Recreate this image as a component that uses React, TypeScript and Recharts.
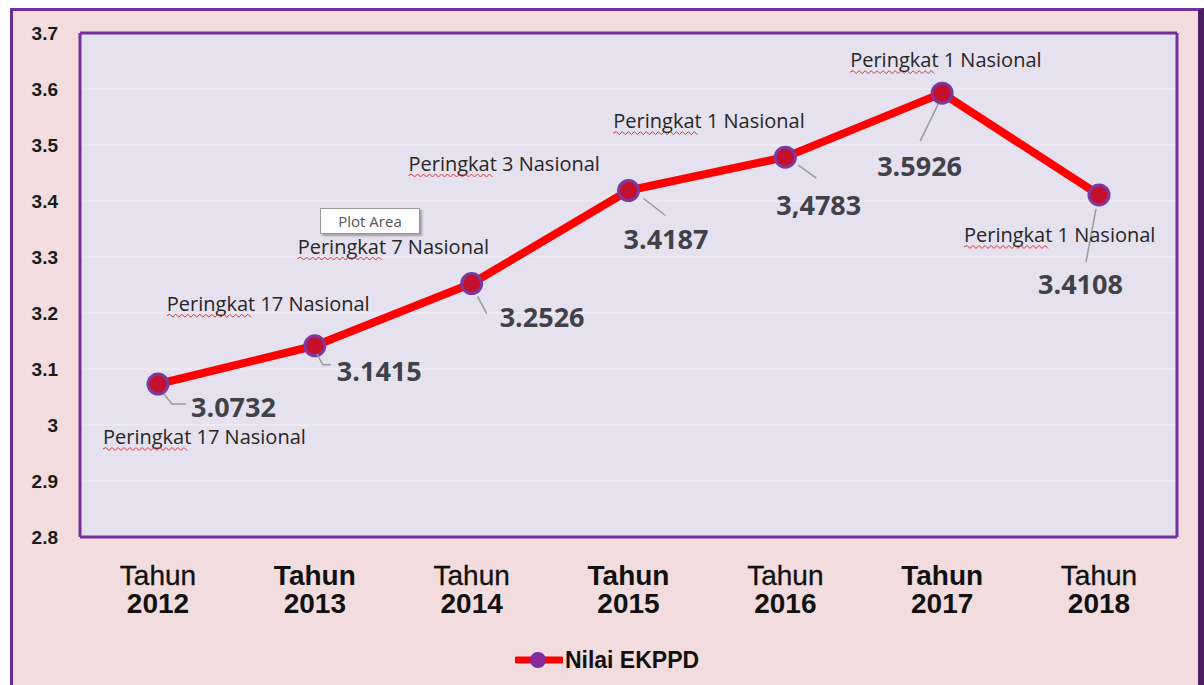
import React from 'react';
import { LineChart, Line, XAxis, YAxis, CartesianGrid, Legend, LabelList } from 'recharts';

const years = ['2012', '2013', '2014', '2015', '2016', '2017', '2018'];
const tahunBold = [false, true, false, true, false, true, false];
const nilai = [3.0732, 3.1415, 3.2526, 3.4187, 3.4783, 3.5926, 3.4108];
const nilaiText = ['3.0732', '3.1415', '3.2526', '3.4187', '3,4783', '3.5926', '3.4108'];
const peringkat = [
  'Peringkat 17 Nasional',
  'Peringkat 17 Nasional',
  'Peringkat 7 Nasional',
  'Peringkat 3 Nasional',
  'Peringkat 1 Nasional',
  'Peringkat 1 Nasional',
  'Peringkat 1 Nasional',
];
const yTicks = [2.8, 2.9, 3, 3.1, 3.2, 3.3, 3.4, 3.5, 3.6, 3.7];

const data = years.map((y, i) => ({ year: y, value: nilai[i] }));

// label placement relative to each point (layout only)
const rankPos = [[-55, 60], [-148, -35], [-174, -30], [-220, -20], [-172, -29], [-92, -26], [-135, 47]];
const valuePos = [[33, 33], [22, 35], [28, 43], [-5, 58], [-9, 58], [-65, 83], [-61, 99]];
const leaderPos = [
  [[6, 10], [14, 20], [28, 20]],
  [[2, 8], [8, 19], [16, 19]],
  [[6, 13], [15, 30]],
  [[15, 8], [37, 25]],
  [[13, 8], [31, 21]],
  [[-4, 11], [-22, 48]],
  [[-3, 14], [-13, 67]],
];

const zigzag = (x0: number, y0: number, w: number) => {
  let d = `M${x0},${y0}`;
  let up = true;
  for (let x = x0 + 3; x <= x0 + w; x += 3) {
    d += ` L${x},${y0 + (up ? -1.5 : 1.5)}`;
    up = !up;
  }
  return d;
};

const PointLabels = (props: any) => {
  const { x, y, value } = props;
  let index = props.index;
  if (index === undefined || index === null) index = nilai.indexOf(value);
  if (index < 0 || x == null || y == null) return null;
  const rp = rankPos[index];
  const vp = valuePos[index];
  const lp = leaderPos[index];
  const pts = lp.map((p) => `${x + p[0]},${y + p[1]}`).join(' ');
  const rx = x + rp[0];
  const ry = y + rp[1];
  return (
    <g>
      <polyline points={pts} fill="none" stroke="#9a9aa2" strokeWidth={1.5} />
      <text x={x + vp[0]} y={y + vp[1]} fill="#414149" fontSize={27} fontWeight={700} fontFamily="'Open Sans', 'DejaVu Sans', sans-serif">
        {nilaiText[index]}
      </text>
      <text x={rx} y={ry} fill="#262626" fontSize={20} fontFamily="'Open Sans', 'DejaVu Sans', sans-serif">
        {peringkat[index]}
      </text>
      <path d={zigzag(rx, ry + 5, 86)} fill="none" stroke="#e03030" strokeWidth={1} />
    </g>
  );
};

const XTick = (props: any) => {
  const { x, y, payload, index } = props;
  const i = index ?? years.indexOf(payload.value);
  return (
    <g>
      <text x={x} y={y + 48} textAnchor="middle" fill="#111" fontSize={28} fontWeight={tahunBold[i] ? 700 : 400} stroke={tahunBold[i] ? 'none' : '#111'} strokeWidth={0.3} fontFamily="'Liberation Sans', Arial, sans-serif">
        Tahun
      </text>
      <text x={x} y={y + 76} textAnchor="middle" fill="#111" fontSize={28} fontWeight={700} fontFamily="'Liberation Sans', Arial, sans-serif">
        {payload.value}
      </text>
    </g>
  );
};

const LegendContent = () => (
  <div style={{ display: 'flex', justifyContent: 'center', alignItems: 'center', height: 30, paddingLeft: 36 }}>
    <svg width={48} height={24} style={{ marginRight: 2 }}>
      <line x1={2} y1={12} x2={46} y2={12} stroke="#ff0000" strokeWidth={7} strokeLinecap="round" />
      <circle cx={23} cy={12} r={7} fill="#8a2a9a" stroke="#7030a0" strokeWidth={2} />
    </svg>
    <span style={{ fontFamily: "'Liberation Sans', Arial, sans-serif", fontWeight: 700, fontSize: 23, color: '#111' }}>Nilai EKPPD</span>
  </div>
);

const frameLine = { stroke: '#7030a0', strokeWidth: 3 };

export default function App() {
  return (
    <div style={{ position: 'absolute', left: 0, top: 0, width: 1204, height: 685, background: '#ffffff', overflow: 'hidden' }}>
      <div
        style={{
          position: 'absolute',
          left: 10,
          top: 8,
          width: 1194,
          height: 690,
          background: '#f2dcdd',
          borderTop: '3px solid #7030a0',
          borderLeft: '3px solid #6a2d96',
          borderRight: '6px solid #4a2060',
          boxSizing: 'border-box',
        }}
      />
      <div style={{ position: 'absolute', left: 0, top: 0 }}>
        <LineChart width={1204} height={685} data={data} margin={{ top: 32, right: 26, bottom: 10, left: 0 }}>
          <CartesianGrid vertical={false} stroke="#efeaf3" strokeWidth={1.5} fill="#e6e1ee" />
          <XAxis
            dataKey="year"
            tick={<XTick />}
            tickLine={false}
            axisLine={frameLine}
            tickSize={0}
            tickMargin={0}
            interval={0}
            height={108}
            padding={{ left: 78, right: 78 }}
          />
          <XAxis xAxisId="top" orientation="top" dataKey="year" height={1} tick={false} tickLine={false} axisLine={frameLine} />
          <YAxis
            domain={[2.8, 3.7]}
            ticks={yTicks}
            interval={0}
            width={80}
            tickLine={false}
            axisLine={frameLine}
            tickSize={0}
            tickMargin={22}
            tick={{ fill: '#1a1a1a', fontSize: 19, fontWeight: 700, fontFamily: "'Liberation Sans', Arial, sans-serif" }}
          />
          <YAxis yAxisId="right" orientation="right" domain={[2.8, 3.7]} width={1} tick={false} tickLine={false} axisLine={frameLine} />
          <Legend verticalAlign="bottom" height={30} content={<LegendContent />} />
          <Line
            type="linear"
            dataKey="value"
            name="Nilai EKPPD"
            stroke="#ff0000"
            strokeWidth={8}
            strokeLinejoin="round"
            dot={{ r: 10, fill: '#c4102c', stroke: '#7a3aa0', strokeWidth: 3 }}
            activeDot={false}
            isAnimationActive={false}
          >
            <LabelList dataKey="value" content={<PointLabels />} />
          </Line>
        </LineChart>
      </div>
      <div
        style={{
          position: 'absolute',
          left: 320,
          top: 208,
          width: 100,
          height: 26,
          background: '#ffffff',
          border: '1px solid #9a9a9a',
          boxShadow: '2px 2px 2px rgba(0,0,0,0.3)',
          boxSizing: 'border-box',
          display: 'flex',
          alignItems: 'center',
          justifyContent: 'center',
          fontFamily: "'Open Sans', sans-serif",
          fontSize: 15,
          color: '#555',
        }}
      >
        Plot Area
      </div>
    </div>
  );
}
